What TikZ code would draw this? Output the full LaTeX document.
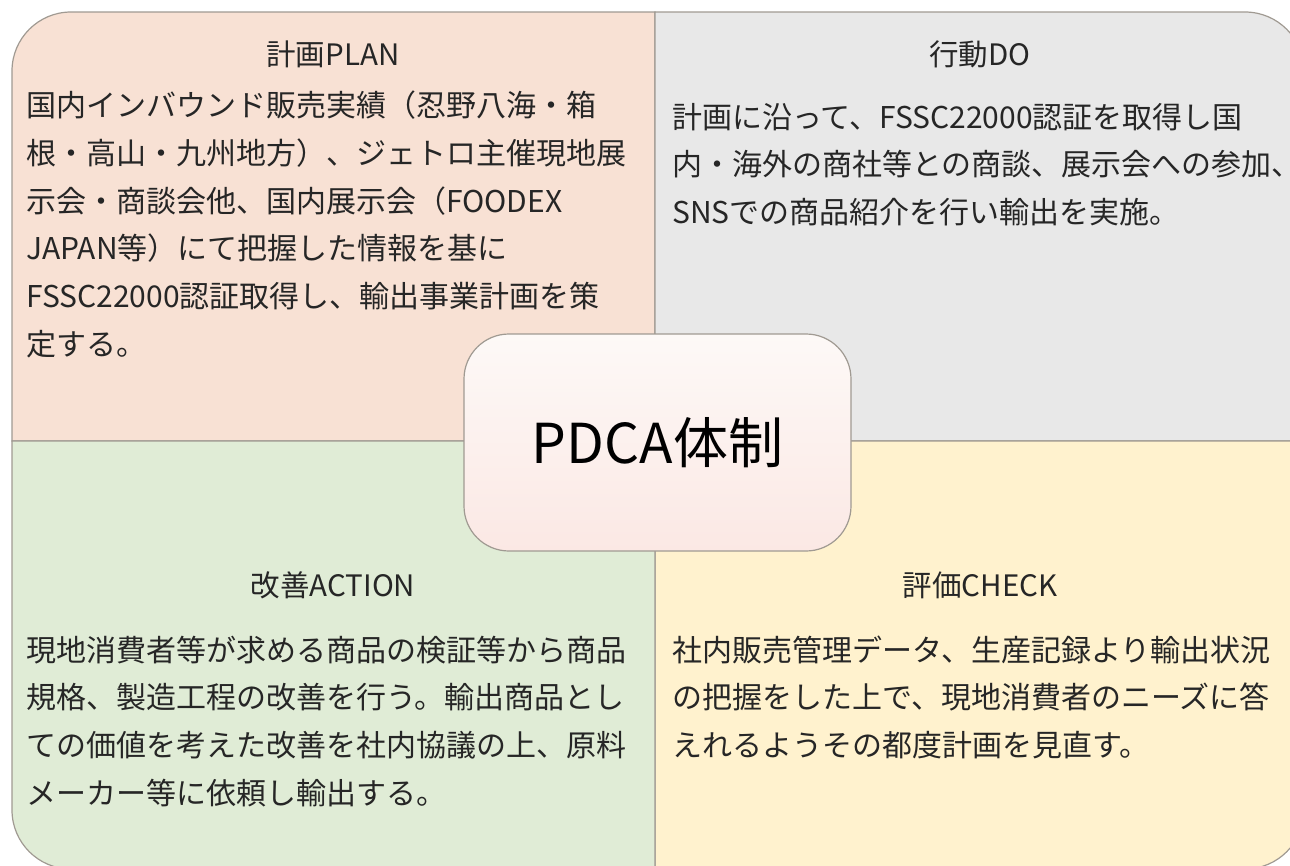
\documentclass[tikz,border=0pt]{standalone}
\usepackage{fontspec}
\setmainfont{Noto Sans CJK JP}
\definecolor{planfill}{RGB}{248,225,212}
\definecolor{dofill}{RGB}{232,232,232}
\definecolor{actfill}{RGB}{224,236,214}
\definecolor{chkfill}{RGB}{255,242,206}
\definecolor{edge}{RGB}{160,154,146}
\definecolor{txt}{RGB}{38,38,38}
\definecolor{ctop}{RGB}{253,249,247}
\definecolor{cbot}{RGB}{251,232,228}
\tikzset{
  quad/.style={draw=edge, line width=1.2pt},
  head/.style={inner sep=0pt, text=txt, font=\fontsize{29.5}{34}\selectfont, anchor=base},
  body/.style={inner sep=0pt, text=txt, font=\fontsize{30}{47.8}\selectfont, align=left, anchor=base west},
  centerbox/.style={draw=edge, line width=1.2pt, rounded corners=45pt, top color=ctop, bottom color=cbot,
    minimum width=387pt, minimum height=217pt, inner sep=0pt, text=black, font=\fontsize{55}{60}\selectfont}
}
\begin{document}
\begin{tikzpicture}[x=1pt, y=-1pt]
\clip (0,0) rectangle (1290,865);
\fill[white] (0,0) rectangle (1290,865);
% quadrants
\draw[quad, fill=planfill] (655,441) -- (12,441) -- (12,71) arc[start angle=180, end angle=270, radius=59] -- (655,12) -- cycle;
\draw[quad, fill=dofill] (655,12) -- (1245,12) arc[start angle=270, end angle=360, radius=59] -- (1304,441) -- (655,441) -- cycle;
\draw[quad, fill=chkfill] (655,441) -- (1304,441) -- (1304,810) arc[start angle=0, end angle=90, radius=59] -- (655,869) -- cycle;
\draw[quad, fill=actfill] (655,441) -- (655,869) -- (71,869) arc[start angle=90, end angle=180, radius=59] -- (12,441) -- cycle;
% headings
\node[head] (hplan) at (333,65.5) {計画PLAN};
\node[head] (hdo) at (980,65.5) {行動DO};
\node[head] (hact) at (333,596.5) {改善ACTION};
\node[head] (hchk) at (980,596.5) {評価CHECK};
% bodies (anchor = baseline of the last line)
\node[body] (bplan) at (26,355.5) {国内インバウンド販売実績（忍野八海・箱\\根・高山・九州地方）、ジェトロ主催現地展\\示会・商談会他、国内展示会（FOODEX\\JAPAN等）にて把握した情報を基に\\FSSC22000認証取得し、輸出事業計画を策\\定する。};
\node[body] (bdo) at (672,223.6) {計画に沿って、FSSC22000認証を取得し国\\内・海外の商社等との商談、展示会への参加、\\SNSでの商品紹介を行い輸出を実施。};
\node[body] (bact) at (26,804.4) {現地消費者等が求める商品の検証等から商品\\規格、製造工程の改善を行う。輸出商品とし\\ての価値を考えた改善を社内協議の上、原料\\メーカー等に依頼し輸出する。};
\node[body] (bchk) at (672,756.6) {社内販売管理データ、生産記録より輸出状況\\の把握をした上で、現地消費者のニーズに答\\えれるようその都度計画を見直す。};
% center
\node[centerbox] (pdca) at (657.5,442.5) {\raisebox{4pt}{PDCA体制}};
\end{tikzpicture}
\end{document}
